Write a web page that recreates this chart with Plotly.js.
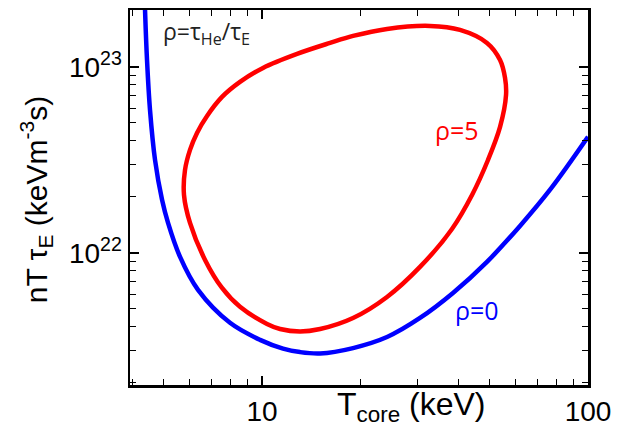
<!DOCTYPE html>
<html>
<head>
<meta charset="utf-8">
<script src="https://cdn.plot.ly/plotly-3.0.1.min.js"></script>
<style>html,body{margin:0;padding:0;background:#fff;}#chart{width:617px;height:428px;}</style>
</head>
<body>
<div id="chart"></div>
<script>
// rho = 0 curve
var blueT = [4.376, 4.438, 4.533, 4.697, 4.935, 5.149, 5.605, 6.363, 7.976, 9.86, 11.60, 13.08, 15.07, 19.02, 24.18, 30.52, 38.53, 48.99, 61.86, 76.4, 100];
var blueY = [2.03e23, 1.09e23, 5.87e22, 3.16e22, 1.93e22, 1.45e22, 9.52e21, 6.33e21, 4.21e21, 3.41e21, 3.06e21, 2.93e21, 2.88e21, 3.08e21, 3.53e21, 4.47e21, 6.09e21, 8.95e21, 1.397e22, 2.18e22, 4.21e22];
// rho = 5 closed curve
var redT = [5.763, 5.804, 6.013, 6.318, 6.782, 7.54, 8.560, 10.07, 12.81, 16.17, 19.02, 24.18, 32.75, 40.49, 48.99, 53.73, 55.65, 56.05, 53.73, 49.34, 44.08, 38.26, 30.52, 24.18, 19.02, 15.07, 13.08, 11.36, 10.36, 8.560, 7.54, 6.687, 6.013, 5.763];
var redY = [2.05e22, 2.79e22, 3.58e22, 4.42e22, 5.45e22, 6.90e22, 8.31e22, 9.88e22, 1.175e23, 1.346e23, 1.468e23, 1.601e23, 1.661e23, 1.581e23, 1.346e23, 1.09e23, 8.73e22, 7.07e22, 4.76e22, 3.16e22, 2.05e22, 1.346e22, 8.41e21, 5.80e21, 4.47e21, 3.90e21, 3.78e21, 3.90e21, 4.15e21, 5.13e21, 6.48e21, 9.17e21, 1.45e22, 2.05e22];
// ticks
var xTickVals = [10, 100];
var xTickText = ['10', '100'];
var xMinor = [4, 5, 6, 7, 8, 9, 20, 30, 40, 50, 60, 70, 80, 90];
var yTickVals = [1e22, 1e23];
var yTickText = ['10<sup>22</sup>', '10<sup>23</sup>'];
var yMinor = [2e21, 3e21, 4e21, 5e21, 6e21, 7e21, 8e21, 9e21, 2e22, 3e22, 4e22, 5e22, 6e22, 7e22, 8e22, 9e22, 2e23];

var axisFont = {family: 'Liberation Sans, Arial, sans-serif', size: 28, color: '#000'};
var traces = [
  {x: blueT, y: blueY, type: 'scatter', mode: 'lines', line: {color: '#0000ff', width: 4.5, shape: 'spline', smoothing: 1}, hoverinfo: 'skip'},
  {x: redT, y: redY, type: 'scatter', mode: 'lines', line: {color: '#ff0000', width: 4.5, shape: 'spline', smoothing: 1}, hoverinfo: 'skip'}
];
var layout = {
  width: 617, height: 428,
  margin: {l: 130, r: 29, t: 10, b: 43},
  paper_bgcolor: '#fff', plot_bgcolor: '#fff',
  showlegend: false,
  xaxis: {
    type: 'log', range: [0.595, 2], showgrid: false, zeroline: false,
    showline: true, linecolor: '#000', linewidth: 2.5, mirror: 'ticks',
    ticks: 'inside', ticklen: 9, tickwidth: 1.5, tickcolor: '#000',
    tickmode: 'array', tickvals: xTickVals, ticktext: xTickText,
    tickfont: axisFont,
    minor: {ticks: 'inside', ticklen: 6, tickwidth: 1, tickcolor: '#000', tickvals: xMinor, showgrid: false}
  },
  yaxis: {
    type: 'log', range: [21.29, 23.306], showgrid: false, zeroline: false,
    showline: true, linecolor: '#000', linewidth: 2.5, mirror: 'ticks',
    ticks: 'inside', ticklen: 9, tickwidth: 1.5, tickcolor: '#000',
    tickmode: 'array', tickvals: yTickVals, ticktext: yTickText,
    tickfont: axisFont, ticklabelstandoff: 0,
    minor: {ticks: 'inside', ticklen: 6, tickwidth: 1, tickcolor: '#000', tickvals: yMinor, showgrid: false}
  },
  annotations: [
    {xref: 'paper', yref: 'paper', x: 0.613, y: -0.058, xanchor: 'center', yanchor: 'middle', showarrow: false,
     text: 'T<sub>core</sub> (keV)', font: {family: 'Liberation Sans, Arial, sans-serif', size: 32, color: '#000'}},
    {xref: 'paper', yref: 'paper', x: -0.205, y: 0.493, xanchor: 'center', yanchor: 'middle', showarrow: false, textangle: -90,
     text: 'nT τ<sub>E</sub> (keVm<sup>-3</sup>s)', font: {family: 'Liberation Sans, Arial, sans-serif', size: 30, color: '#000'}},
    {xref: 'paper', yref: 'paper', x: 0.068, y: 0.94, xanchor: 'left', yanchor: 'middle', showarrow: false,
     text: 'ρ=τ<sub>He</sub>/τ<sub>E</sub>', font: {family: 'Open Sans, sans-serif', size: 23, color: '#222'}},
    {xref: 'paper', yref: 'paper', x: 0.714, y: 0.68, xanchor: 'center', yanchor: 'middle', showarrow: false,
     text: 'ρ=5', font: {family: 'Open Sans, sans-serif', size: 25, color: '#ff0000'}},
    {xref: 'paper', yref: 'paper', x: 0.757, y: 0.2, xanchor: 'center', yanchor: 'middle', showarrow: false,
     text: 'ρ=0', font: {family: 'Open Sans, sans-serif', size: 25, color: '#0000ff'}}
  ]
};
Plotly.newPlot('chart', traces, layout, {staticPlot: true, displayModeBar: false});
</script>
</body>
</html>
